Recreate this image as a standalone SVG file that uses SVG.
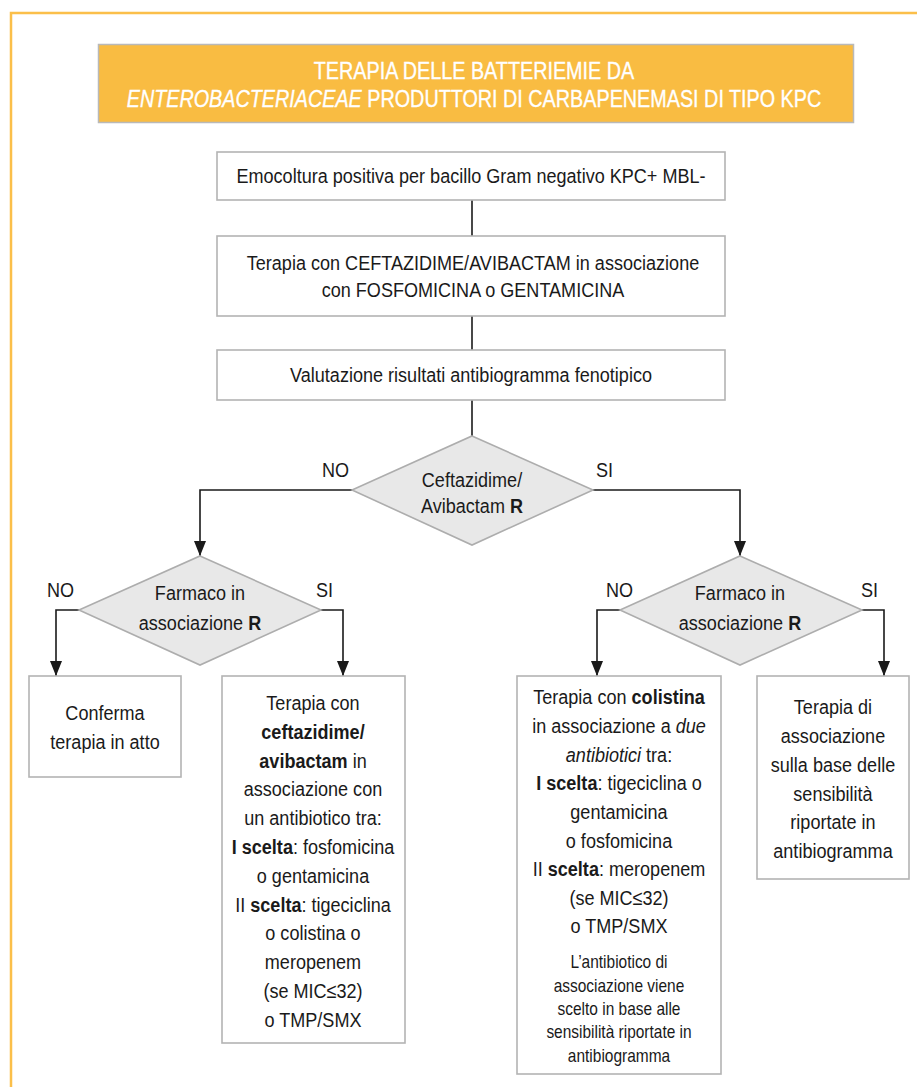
<svg xmlns="http://www.w3.org/2000/svg" width="917" height="1087" viewBox="0 0 917 1087">
<defs>
<style>
.frame{fill:none;stroke:#FBBF4A;stroke-width:2.5}
.title{fill:#F9BC42;stroke:#B9B9B9;stroke-width:1.5}
.box{fill:#FFFFFF;stroke:#B3B3B3;stroke-width:1.6}
.dia{fill:#E8E8E8;stroke:#ADADAD;stroke-width:1.6}
.con{fill:none;stroke:#1A1A1A;stroke-width:1.6}
text{font-family:"Liberation Sans",Arial,sans-serif;fill:#1A1A1A;font-size:21px;text-anchor:middle}
.tt{fill:#FFFFFF;font-size:23px;stroke:#FFFFFF;stroke-width:0.35}
.sm{font-size:18px}
.lbl{text-anchor:start}
.b{font-weight:bold}
.i{font-style:italic}
</style>
<marker id="arr" markerUnits="userSpaceOnUse" markerWidth="15" markerHeight="12" refX="15" refY="6" orient="auto">
<path d="M0,0 L15,6 L0,12 z" fill="#1A1A1A"/>
</marker>
</defs>
<rect width="917" height="1087" fill="#FFFFFF"/>
<path class="frame" d="M11,1087 V13 H917"/>

<g id="title">
<rect class="title" x="98.5" y="44.5" width="755" height="78"/>
<g transform="matrix(0.86,0,0,1,66.36,0)">
<text class="tt" x="474" y="79">TERAPIA DELLE BATTERIEMIE DA</text>
<text class="tt" x="474" y="107"><tspan class="i">ENTEROBACTERIACEAE</tspan> PRODUTTORI DI CARBAPENEMASI DI TIPO KPC</text>
</g>
</g>

<g id="connectors">
<line class="con" x1="472" y1="200" x2="472" y2="236"/>
<line class="con" x1="472" y1="316" x2="472" y2="350"/>
<line class="con" x1="472" y1="400" x2="472" y2="436"/>
<path class="con" d="M352,490 H200 V556" marker-end="url(#arr)"/>
<path class="con" d="M593,490 H740 V556" marker-end="url(#arr)"/>
<path class="con" d="M79,610 H56 V676" marker-end="url(#arr)"/>
<path class="con" d="M321,610 H343 V676" marker-end="url(#arr)"/>
<path class="con" d="M620,610 H597 V676" marker-end="url(#arr)"/>
<path class="con" d="M862,610 H884 V676" marker-end="url(#arr)"/>
<text class="lbl" x="322" y="477" transform="matrix(0.86,0,0,1,45.08,0)">NO</text>
<text class="lbl" x="596" y="477" transform="matrix(0.86,0,0,1,83.44,0)">SI</text>
<text class="lbl" x="47" y="597" transform="matrix(0.86,0,0,1,6.58,0)">NO</text>
<text class="lbl" x="316" y="597" transform="matrix(0.86,0,0,1,44.24,0)">SI</text>
<text class="lbl" x="606" y="597" transform="matrix(0.86,0,0,1,84.84,0)">NO</text>
<text class="lbl" x="861" y="597" transform="matrix(0.86,0,0,1,120.54,0)">SI</text>
</g>

<g id="n1">
<rect class="box" x="217" y="152" width="508" height="48"/>
<g transform="matrix(0.86,0,0,1,65.94,0)">
<text x="471" y="183">Emocoltura positiva per bacillo Gram negativo KPC+ MBL-</text>
</g>
</g>

<g id="n2">
<rect class="box" x="217" y="236" width="508" height="80"/>
<g transform="matrix(0.86,0,0,1,66.22,0)">
<text x="473" y="270">Terapia con CEFTAZIDIME/AVIBACTAM in associazione</text>
<text x="473" y="297">con FOSFOMICINA o GENTAMICINA</text>
</g>
</g>

<g id="n3">
<rect class="box" x="217" y="350" width="508" height="50"/>
<g transform="matrix(0.86,0,0,1,65.94,0)">
<text x="471" y="382">Valutazione risultati antibiogramma fenotipico</text>
</g>
</g>

<g id="d1">
<polygon class="dia" points="472,436 593,490 472,545 352,490"/>
<g transform="matrix(0.86,0,0,1,66.08,0)">
<text x="472" y="487">Ceftazidime/</text>
<text x="472" y="513">Avibactam <tspan class="b">R</tspan></text>
</g>
</g>

<g id="d2">
<polygon class="dia" points="200,556 321,610 200,665 79,610"/>
<g transform="matrix(0.86,0,0,1,28,0)">
<text x="200" y="600">Farmaco in</text>
<text x="200" y="630">associazione <tspan class="b">R</tspan></text>
</g>
</g>

<g id="d3">
<polygon class="dia" points="740,556 862,610 740,665 620,610"/>
<g transform="matrix(0.86,0,0,1,103.6,0)">
<text x="740" y="600">Farmaco in</text>
<text x="740" y="630">associazione <tspan class="b">R</tspan></text>
</g>
</g>

<g id="n4">
<rect class="box" x="29" y="676" width="152" height="101"/>
<g transform="matrix(0.86,0,0,1,14.7,0)">
<text x="105" y="720">Conferma</text>
<text x="105" y="749">terapia in atto</text>
</g>
</g>

<g id="n5">
<rect class="box" x="222" y="676" width="183" height="367"/>
<g transform="matrix(0.86,0,0,1,43.82,0)">
<text x="313" y="710">Terapia con</text>
<text x="313" y="739" class="b">ceftazidime/</text>
<text x="313" y="768"><tspan class="b">avibactam</tspan> in</text>
<text x="313" y="796">associazione con</text>
<text x="313" y="825">un antibiotico tra:</text>
<text x="313" y="854"><tspan class="b">I scelta</tspan>: fosfomicina</text>
<text x="313" y="883">o gentamicina</text>
<text x="313" y="912">II <tspan class="b">scelta</tspan>: tigeciclina</text>
<text x="313" y="940">o colistina o</text>
<text x="313" y="969">meropenem</text>
<text x="313" y="998">(se MIC≤32)</text>
<text x="313" y="1027">o TMP/SMX</text>
</g>
</g>

<g id="n6">
<rect class="box" x="517" y="676" width="204" height="398"/>
<g transform="matrix(0.86,0,0,1,86.66,0)">
<text x="619" y="704">Terapia con <tspan class="b">colistina</tspan></text>
<text x="619" y="733">in associazione a <tspan class="i">due</tspan></text>
<text x="619" y="762"><tspan class="i">antibiotici</tspan> tra:</text>
<text x="619" y="790"><tspan class="b">I scelta</tspan>: tigeciclina o</text>
<text x="619" y="819">gentamicina</text>
<text x="619" y="848">o fosfomicina</text>
<text x="619" y="876">II <tspan class="b">scelta</tspan>: meropenem</text>
<text x="619" y="905">(se MIC≤32)</text>
<text x="619" y="933">o TMP/SMX</text>
<text class="sm" x="619" y="968">L’antibiotico di</text>
<text class="sm" x="619" y="992">associazione viene</text>
<text class="sm" x="619" y="1015">scelto in base alle</text>
<text class="sm" x="619" y="1038">sensibilità riportate in</text>
<text class="sm" x="619" y="1062">antibiogramma</text>
</g>
</g>

<g id="n7">
<rect class="box" x="757" y="676" width="152" height="203"/>
<g transform="matrix(0.86,0,0,1,116.62,0)">
<text x="833" y="714">Terapia di</text>
<text x="833" y="743">associazione</text>
<text x="833" y="772">sulla base delle</text>
<text x="833" y="801">sensibilità</text>
<text x="833" y="829">riportate in</text>
<text x="833" y="858">antibiogramma</text>
</g>
</g>
</svg>
